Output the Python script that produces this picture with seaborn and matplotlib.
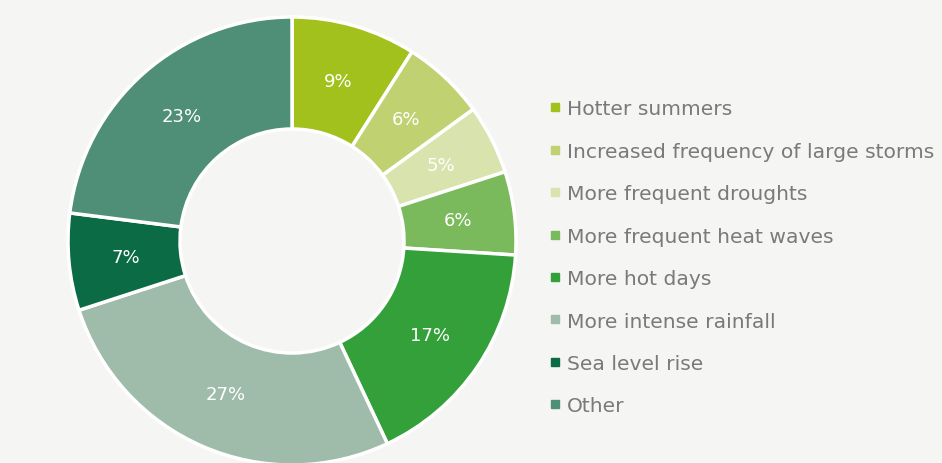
import matplotlib
matplotlib.use("Agg")
import matplotlib.pyplot as plt
from matplotlib.lines import Line2D
import seaborn as sns

categories = ["Hotter summers", "Increased frequency of large storms",
              "More frequent droughts", "More frequent heat waves",
              "More hot days", "More intense rainfall", "Sea level rise", "Other"]
values = [9, 6, 5, 6, 17, 27, 7, 23]
colors = ["#a3c11c", "#bfd171", "#d9e3ad", "#7aba5c",
          "#34a03a", "#9fbcaa", "#0b6b45", "#4f8f77"]

sns.set_theme(style="white")
plt.rcParams['font.family'] = ['DejaVu Sans']
bg = "#f5f5f4"

fig = plt.figure(figsize=(9.42, 4.64), dpi=100, facecolor=bg)
ax = fig.add_axes([0.0722, -0.0043, 448/942, 448/464])
ax.set_facecolor(bg)

wedges, texts, autotexts = ax.pie(
    values, colors=colors, startangle=90, counterclock=False,
    radius=1.0, autopct=lambda p: f"{p:.0f}%", pctdistance=0.745,
    wedgeprops=dict(width=0.5, edgecolor="white", linewidth=2.5),
    textprops=dict(color="white", fontsize=13))
ax.set_xlim(-1.0, 1.0)
ax.set_ylim(-1.0, 1.0)
ax.set_aspect("equal")
ax.axis("off")

handles = [Line2D([0], [0], marker="s", linestyle="none", markersize=6,
                  markerfacecolor=c, markeredgecolor=c) for c in colors]
leg = fig.legend(handles, categories, loc="center left",
                 bbox_to_anchor=(0.583, 0.443), frameon=False,
                 fontsize=14.6, labelspacing=1.155, handletextpad=0.28,
                 handlelength=0.6, borderpad=0, borderaxespad=0)
for t in leg.get_texts():
    t.set_color("#7a7a7a")

fig.savefig("out.png", dpi=100, facecolor=bg)
